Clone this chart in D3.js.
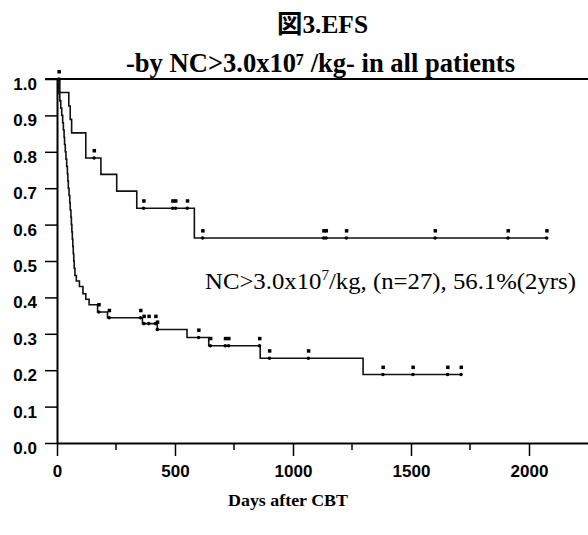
<!DOCTYPE html>
<html>
<head>
<meta charset="utf-8">
<script src="https://cdn.jsdelivr.net/npm/d3@7"></script>
<style>
  body { margin: 0; background: #fff; }
  svg { display: block; }
</style>
</head>
<body>
<div id="chart"></div>
<script>
// step points: [day, survival after the step]
const upperSteps = [
  [0, 1.0], [12, 0.963], [50, 0.926], [56, 0.889], [62, 0.852],
  [122, 0.783], [186, 0.738], [253, 0.692], [338, 0.645], [582, 0.563]
];
const upperEnd = 2080;
const upperCensor = [8, 157, 367, 490, 502, 552, 617, 1130, 1140, 1226, 1602, 1911, 2075];

const lowerSteps = [
  [0, 1.0], [5, 0.98], [8, 0.96], [12, 0.94], [16, 0.92], [20, 0.90], [24, 0.88],
  [27, 0.86], [30, 0.84], [32, 0.82], [35, 0.80], [38, 0.78], [41, 0.76], [44, 0.74],
  [46, 0.72], [48, 0.70], [51, 0.68], [54, 0.66], [56, 0.64], [59, 0.62], [61, 0.60],
  [63, 0.58], [65, 0.56], [67, 0.54], [69, 0.52], [71, 0.50], [73, 0.48], [76, 0.46],
  [82, 0.445], [95, 0.43], [110, 0.41], [122, 0.395], [136, 0.38], [172, 0.36],
  [214, 0.344], [362, 0.328], [425, 0.312], [551, 0.29], [643, 0.267], [861, 0.233],
  [1297, 0.188]
];
const lowerEnd = 1716;
const lowerCensor = [177, 221, 354, 368, 389, 418, 425, 600, 650, 713, 727, 858, 900, 1065, 1381, 1508, 1655, 1712];

const yTicks = [0, 0.1, 0.2, 0.3, 0.4, 0.5, 0.6, 0.7, 0.8, 0.9, 1.0];
const xTicks = [0, 500, 1000, 1500, 2000];
const xMinor = [250, 750, 1250, 1750];

const width = 588, height = 535;
const margin = {top: 79, right: 0, bottom: 92, left: 57};

const svg = d3.select("#chart")
  .append("svg")
  .attr("width", width)
  .attr("height", height);

const xScale = d3.scaleLinear()
  .domain([0, 2250])
  .range([margin.left, width - margin.right]);

const yScale = d3.scaleLinear()
  .domain([0, 1])
  .range([height - margin.bottom, margin.top]);

const serif = "'Liberation Serif', 'Noto Sans CJK JP', serif";
const sans = "'Liberation Sans', Arial, sans-serif";

// titles
svg.append("text")
  .attr("x", 277).attr("y", 33)
  .attr("textLength", 91).attr("lengthAdjust", "spacingAndGlyphs")
  .style("font-family", serif).style("font-weight", "bold").style("font-size", "26px")
  .text("図3.EFS");

svg.append("text")
  .attr("x", 126).attr("y", 72)
  .attr("textLength", 389).attr("lengthAdjust", "spacingAndGlyphs")
  .style("font-family", serif).style("font-weight", "bold").style("font-size", "27px")
  .text("-by NC>3.0x10\u2077 /kg-  in all patients");

// axes
const yAxis = svg.append("g")
  .attr("transform", `translate(${margin.left},0)`)
  .call(d3.axisLeft(yScale).tickValues(yTicks).tickFormat(d3.format(".1f")).tickSize(12).tickPadding(8).tickSizeOuter(0));
yAxis.select(".domain").attr("stroke-width", 2);
yAxis.selectAll(".tick line").attr("stroke-width", 1.5);
yAxis.selectAll("text")
  .attr("transform", "translate(0,5)")
  .style("font-family", sans).style("font-weight", "bold").style("font-size", "17px");

const xAxis = svg.append("g")
  .attr("transform", `translate(0,${yScale(0)})`)
  .call(d3.axisBottom(xScale).tickValues(xTicks).tickFormat(d3.format("d")).tickSize(13).tickPadding(9).tickSizeOuter(0));
xAxis.select(".domain").attr("stroke-width", 2);
xAxis.selectAll(".tick line").attr("stroke-width", 1.5);
xAxis.selectAll("text").style("font-family", sans).style("font-weight", "bold").style("font-size", "17px");

svg.append("g")
  .selectAll("line")
  .data(xMinor)
  .join("line")
  .attr("x1", d => xScale(d)).attr("x2", d => xScale(d))
  .attr("y1", yScale(0)).attr("y2", yScale(0) + 7)
  .attr("stroke", "#000").attr("stroke-width", 1.5);

// top frame line
svg.append("line")
  .attr("x1", margin.left - 12).attr("x2", width)
  .attr("y1", yScale(1)).attr("y2", yScale(1))
  .attr("stroke", "#000").attr("stroke-width", 2);

// survival curves
function stepValue(steps, t) {
  let v = steps[0][1];
  for (const s of steps) { if (s[0] <= t) v = s[1]; }
  return v;
}

const line = d3.line()
  .x(d => xScale(d[0]))
  .y(d => yScale(d[1]))
  .curve(d3.curveStepAfter);

function drawCurve(steps, end, censor) {
  const pts = steps.concat([[end, steps[steps.length - 1][1]]]);
  svg.append("path")
    .datum(pts)
    .attr("fill", "none")
    .attr("stroke", "#111")
    .attr("stroke-width", 1.6)
    .attr("d", line);

  const g = svg.append("g");
  g.selectAll("rect.c")
    .data(censor)
    .join("rect")
    .attr("class", "c")
    .attr("x", d => xScale(d) - 1.5)
    .attr("y", d => yScale(stepValue(steps, d)) - 9)
    .attr("width", 3.5).attr("height", 3.5)
    .attr("fill", "#000");
  g.selectAll("circle")
    .data(censor)
    .join("circle")
    .attr("cx", d => xScale(d))
    .attr("cy", d => yScale(stepValue(steps, d)))
    .attr("r", 1.8)
    .attr("fill", "#000");
}

drawCurve(upperSteps, upperEnd, upperCensor);
drawCurve(lowerSteps, lowerEnd, lowerCensor);

// annotation
const ann = svg.append("text")
  .attr("x", 205).attr("y", 289)
  .attr("textLength", 371).attr("lengthAdjust", "spacingAndGlyphs")
  .style("font-family", serif).style("font-size", "23px");
ann.append("tspan").text("NC>3.0x10");
ann.append("tspan").attr("dy", -9).style("font-size", "14px").text("7");
ann.append("tspan").attr("dy", 9).text("/kg,  (n=27), 56.1%(2yrs)");

// x label
svg.append("text")
  .attr("x", 288).attr("y", 506)
  .attr("text-anchor", "middle")
  .attr("textLength", 120).attr("lengthAdjust", "spacingAndGlyphs")
  .style("font-family", serif).style("font-weight", "bold").style("font-size", "16px")
  .text("Days after CBT");
</script>
</body>
</html>
